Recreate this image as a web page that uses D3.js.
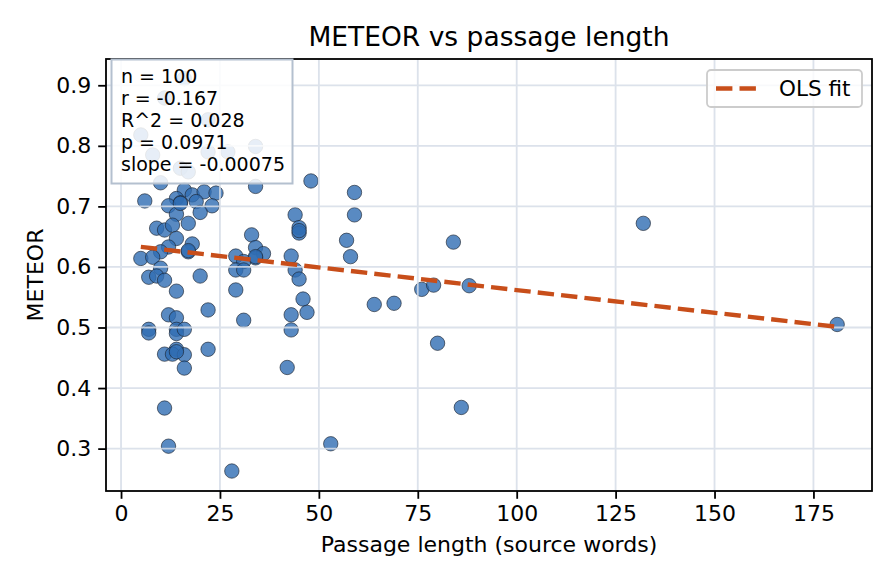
<!DOCTYPE html>
<html><head><meta charset="utf-8">
<script src="https://cdn.jsdelivr.net/npm/d3@7"></script>
<style>body{margin:0;background:#fff}svg{display:block;font-family:"DejaVu Sans",sans-serif}</style>
</head><body><svg id="c" width="896" height="584"></svg>
<script>
const passageLength = [11,5,8,22,22,27,34,15,17,16,10,34,48,59,16,18,21,24,6,14,15,19,12,23,14,20,17,9,11,13,14,18,17,12,10,5,8,10,7,9,11,20,14,22,12,14,7,7,14,14,16,22,11,14,13,16,16,11,12,28,42,33,34,36,34,29,31,29,31,29,31,44,45,45,43,44,45,46,47,43,43,59,57,58,64,69,76,79,88,84,80,86,53,132,181,17,15,45,14,34];
const meteor = [0.879,0.818,0.785,0.843,0.790,0.790,0.799,0.763,0.757,0.911,0.739,0.733,0.742,0.723,0.727,0.719,0.724,0.722,0.709,0.713,0.706,0.708,0.701,0.701,0.687,0.690,0.672,0.664,0.661,0.669,0.647,0.638,0.625,0.633,0.625,0.614,0.616,0.598,0.583,0.585,0.578,0.585,0.560,0.529,0.521,0.516,0.497,0.491,0.497,0.490,0.497,0.464,0.456,0.464,0.456,0.455,0.433,0.367,0.304,0.263,0.434,0.653,0.632,0.622,0.615,0.618,0.609,0.595,0.595,0.562,0.512,0.686,0.665,0.656,0.618,0.595,0.580,0.547,0.525,0.521,0.496,0.686,0.644,0.617,0.538,0.540,0.563,0.570,0.569,0.641,0.474,0.368,0.308,0.672,0.505,0.627,0.705,0.660,0.460,0.617];
const xTicks = [0,25,50,75,100,125,150,175];
const yTicks = [0.3,0.4,0.5,0.6,0.7,0.8,0.9];
const statsLines = ["n = 100","r = -0.167","R^2 = 0.028","p = 0.0971","slope = -0.00075"];
const fitIntercept = 0.6368;
const fitSlope = -0.00075;
const legendLabel = "OLS fit";

const svg = d3.select("#c");
const L=106,R=872,T=59,B=491;
const x = d3.scaleLinear().domain([-3.8,189.8]).range([L,R]);
const y = d3.scaleLinear().domain([0.2300,0.9434]).range([B,T]);

svg.append("text").attr("x",(L+R)/2).attr("y",46).attr("text-anchor","middle")
  .attr("font-size",26.5).text("METEOR vs passage length");

const pts = passageLength.map((d,i)=>({x:d,y:meteor[i]}));
svg.append("g").selectAll("circle").data(pts).join("circle")
  .attr("cx",d=>x(d.x)).attr("cy",d=>y(d.y)).attr("r",7.2)
  .attr("fill","#2f6db3").attr("fill-opacity",0.8)
  .attr("stroke","#1a2330").attr("stroke-opacity",0.8).attr("stroke-width",0.8);

// grid (above scatter, like matplotlib)
const grid = svg.append("g").attr("stroke","#d6dde8").attr("stroke-width",1.8).attr("opacity",0.85);
xTicks.forEach(t=>grid.append("line").attr("x1",x(t)).attr("x2",x(t)).attr("y1",T).attr("y2",B));
yTicks.forEach(t=>grid.append("line").attr("y1",y(t)).attr("y2",y(t)).attr("x1",L).attr("x2",R));

// fit line
const xe = d3.extent(passageLength);
svg.append("line").attr("x1",x(xe[0])).attr("x2",x(xe[1]))
  .attr("y1",y(fitIntercept+fitSlope*xe[0])).attr("y2",y(fitIntercept+fitSlope*xe[1]))
  .attr("stroke","#c84e1a").attr("stroke-width",4.4).attr("stroke-dasharray","16.4,7.1");

// axes
const xa = svg.append("g").attr("transform",`translate(0,${B})`)
  .call(d3.axisBottom(x).tickValues(xTicks).tickSize(7.8).tickPadding(7).tickFormat(d3.format("d")));
const ya = svg.append("g").attr("transform",`translate(${L},0)`)
  .call(d3.axisLeft(y).tickValues(yTicks).tickSize(7.8).tickPadding(7).tickFormat(d3.format(".1f")));
[xa,ya].forEach(a=>{a.select(".domain").remove();a.selectAll("line").attr("stroke","#000").attr("stroke-width",1.8);
  a.selectAll("text").attr("font-size",22).attr("font-family","DejaVu Sans").attr("fill","#000");});
svg.append("rect").attr("x",L).attr("y",T).attr("width",R-L).attr("height",B-T)
  .attr("fill","none").attr("stroke","#000").attr("stroke-width",1.8);

svg.append("text").attr("x",(L+R)/2).attr("y",552).attr("text-anchor","middle").attr("font-size",22)
  .text("Passage length (source words)");
svg.append("text").attr("transform",`translate(43,${(T+B)/2}) rotate(-90)`).attr("text-anchor","middle")
  .attr("font-size",22).text("METEOR");

// stats box
svg.append("rect").attr("x",111.5).attr("y",59.5).attr("width",181).attr("height",124)
  .attr("fill","#fff").attr("fill-opacity",0.86).attr("stroke","#b4c0cf").attr("stroke-width",2);
svg.append("g").selectAll("text").data(statsLines).join("text")
  .attr("x",121).attr("y",(d,i)=>83+i*22).attr("font-size",19).text(d=>d);

// legend
svg.append("rect").attr("x",707).attr("y",70).attr("width",155).attr("height",37).attr("rx",4)
  .attr("fill","#fff").attr("fill-opacity",0.8).attr("stroke","#cccccc").attr("stroke-width",1.8);
svg.append("line").attr("x1",716).attr("x2",760).attr("y1",88.5).attr("y2",88.5)
  .attr("stroke","#c84e1a").attr("stroke-width",4.4).attr("stroke-dasharray","16.4,7.1");
svg.append("text").attr("x",779).attr("y",96).attr("font-size",21.5).text(legendLabel);
</script></body></html>
